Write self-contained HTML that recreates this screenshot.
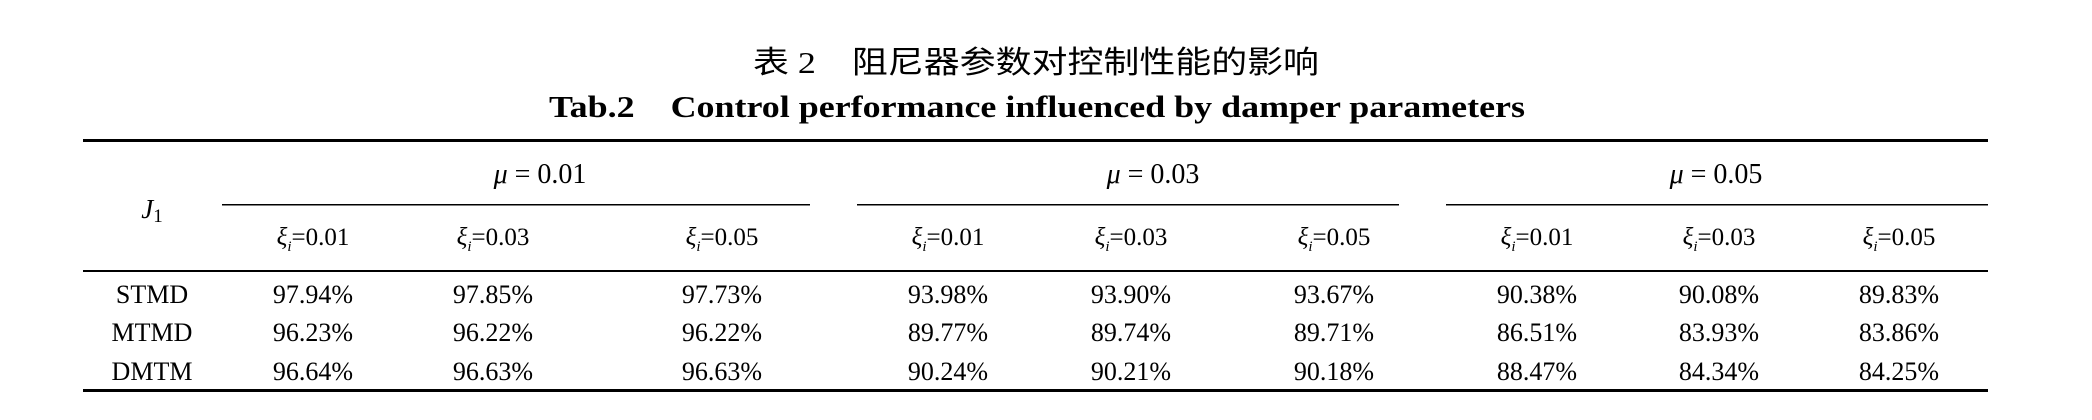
<!DOCTYPE html>
<html><head><meta charset="utf-8"><style>
html,body{margin:0;padding:0;background:#fff;}
svg{display:block}
text{font-family:"Liberation Serif","Noto Serif CJK SC",serif;fill:#000}
</style></head><body>
<svg width="2092" height="420" viewBox="0 0 2092 420">
<text x="753" y="73" font-size="31" textLength="566" lengthAdjust="spacingAndGlyphs" style='font-family:"Liberation Serif","Noto Sans CJK SC",sans-serif'>表 2　阻尼器参数对控制性能的影响</text>
<text x="549" y="117" font-size="31" font-weight="bold" textLength="976" lengthAdjust="spacingAndGlyphs" xml:space="preserve">Tab.2    Control performance influenced by damper parameters</text>
<rect x="83" y="139" width="1905" height="3" fill="#000"/>
<rect x="83" y="270" width="1905" height="2" fill="#000"/>
<rect x="83" y="389" width="1905" height="3" fill="#000"/>
<rect x="222" y="204" width="588" height="1.5" fill="#000"/>
<rect x="857" y="204" width="542" height="1.5" fill="#000"/>
<rect x="1446" y="204" width="542" height="1.5" fill="#000"/>
<text x="152" y="218" font-size="27" text-anchor="middle"><tspan font-style="italic">J</tspan><tspan font-size="19" dy="4">1</tspan></text>
<g id="rows"></g>
</svg>
<script>
const muLabels=["0.01","0.03","0.05"];
const xiLabels=["0.01","0.03","0.05"];
const rowLabels=["STMD","MTMD","DMTM"];
const stmd=["97.94%","97.85%","97.73%","93.98%","93.90%","93.67%","90.38%","90.08%","89.83%"];
const mtmd=["96.23%","96.22%","96.22%","89.77%","89.74%","89.71%","86.51%","83.93%","83.86%"];
const dmtm=["96.64%","96.63%","96.63%","90.24%","90.21%","90.18%","88.47%","84.34%","84.25%"];
const values=[stmd,mtmd,dmtm];
const colX=[313,493,722,948,1131,1334,1537,1719,1899];
const muX=[540,1153,1716];
const rowY=[303,341,380];
const NS="http://www.w3.org/2000/svg";
const g=document.getElementById('rows');
function t(x,y,s,fs){const e=document.createElementNS(NS,'text');e.setAttribute('x',x);e.setAttribute('y',y);e.setAttribute('font-size',fs);e.setAttribute('text-anchor','middle');e.textContent=s;g.appendChild(e);return e;}
muLabels.forEach((m,i)=>{
  const e=t(muX[i],183,'',28);
  e.innerHTML='<tspan font-style="italic">μ</tspan> = '+m;
  
  
});
colX.forEach((x,j)=>{
  const e=t(x,245,'',25);
  e.innerHTML='<tspan font-style="italic">ξ</tspan><tspan font-style="italic" font-size="15" dy="6">i</tspan><tspan dy="-6">=</tspan>'+xiLabels[j%3];
  
  
});
rowLabels.forEach((r,i)=>{
  const e=t(152,rowY[i],r,26);
  
  
  values[i].forEach((v,j)=>{
    const c=t(colX[j],rowY[i],v,26);
    
    
  });
});
</script>
</body></html>
